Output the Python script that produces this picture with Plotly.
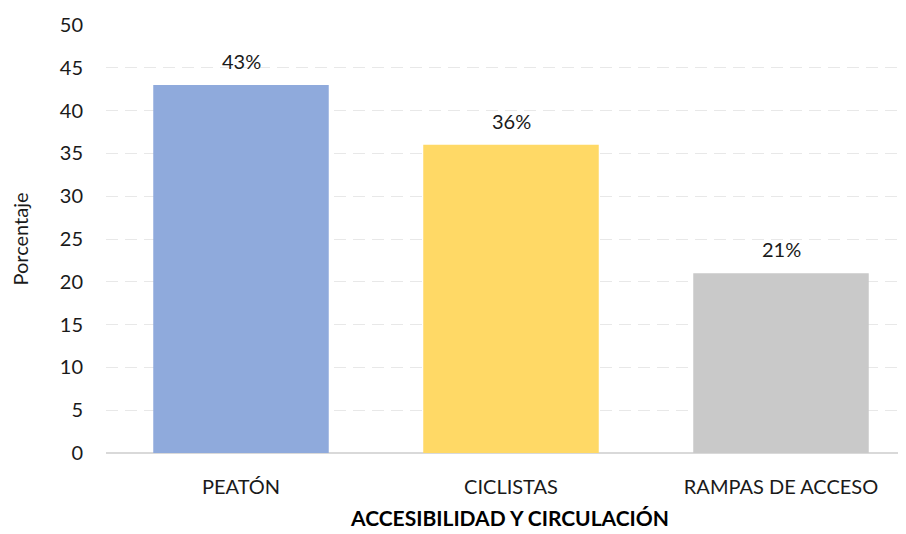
import plotly.graph_objects as go

categories = ['PEATÓN', 'CICLISTAS', 'RAMPAS DE ACCESO']
values = [43, 36, 21]
labels = ['43%', '36%', '21%']
colors = ['#8FAADC', '#FFD966', '#C9C9C9']

FONT = 'Lato, Calibri, sans-serif'
TXT = '#1a1a1a'

fig = go.Figure()
fig.add_trace(go.Bar(
    x=categories,
    y=values,
    marker={'color': colors, 'line': {'width': 0}},
))

# value labels above the bars
for c, v, t in zip(categories, values, labels):
    fig.add_annotation(x=c, y=v, text=t, showarrow=False,
                       yanchor='bottom', yshift=10,
                       font={'family': FONT, 'size': 20, 'color': TXT})

# page body has an 8px margin, so the figure is shifted by 8px
fig.update_layout(
    width=906, height=534,
    margin={'l': 98, 'r': 0, 't': 17, 'b': 89},
    paper_bgcolor='white',
    plot_bgcolor='white',
    bargap=0.35,
    showlegend=False,
    font={'family': FONT, 'size': 20, 'color': TXT},
)

fig.update_xaxes(
    range=[-0.5, -0.5 + 808 / 270],
    showgrid=False,
    ticks='',
    ticklabelstandoff=20,
    tickfont={'family': FONT, 'size': 20, 'color': TXT},
    title={'text': '<b>ACCESIBILIDAD Y CIRCULACIÓN</b>', 'standoff': 14,
           'font': {'family': FONT, 'size': 21, 'color': 'black'}},
)

fig.update_yaxes(
    range=[0, 50],
    dtick=5,
    showgrid=True,
    gridcolor='#E8E8E8',
    griddash='12px,7px',
    gridwidth=1,
    zeroline=True,
    zerolinecolor='#D9D9D9',
    zerolinewidth=2,
    ticks='',
    ticklabelstandoff=22,
    tickfont={'family': FONT, 'size': 20, 'color': TXT},
    title={'text': 'Porcentaje', 'standoff': 28,
           'font': {'family': FONT, 'size': 20, 'color': TXT}},
)

fig.write_html('out.html')
